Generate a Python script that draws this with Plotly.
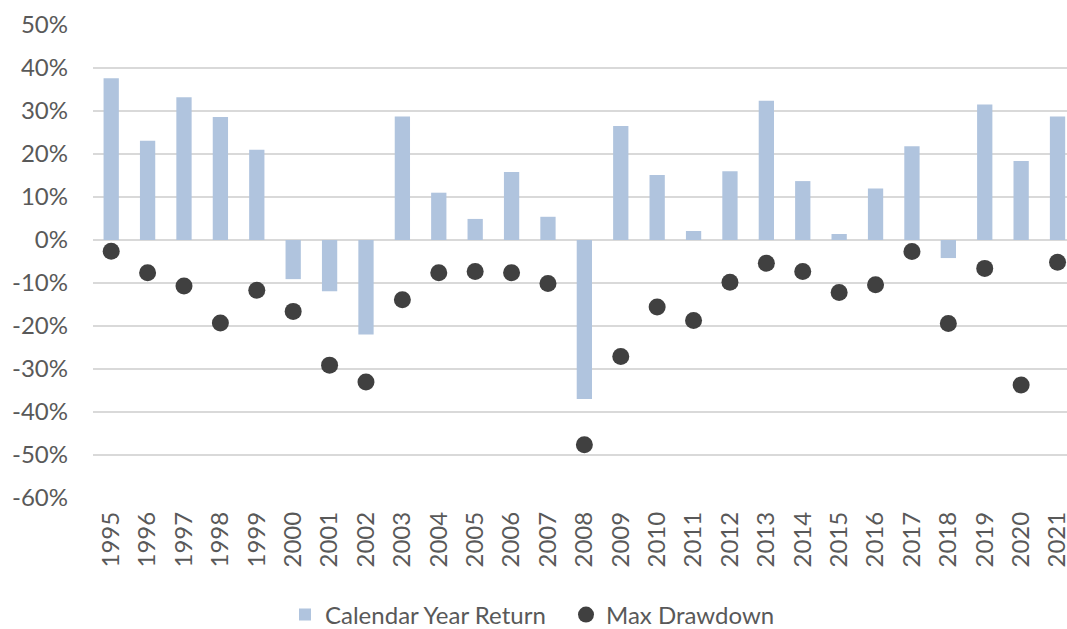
import plotly.graph_objects as go

years = [str(y) for y in range(1995, 2022)]
calendar_return = [37.6, 23.1, 33.2, 28.6, 21.0, -9.1, -11.9, -22.0, 28.7, 11.0,
                   4.9, 15.8, 5.4, -37.0, 26.5, 15.1, 2.1, 16.0, 32.4, 13.7,
                   1.4, 12.0, 21.8, -4.2, 31.5, 18.4, 28.7]
max_drawdown = [-2.6, -7.6, -10.7, -19.3, -11.7, -16.6, -29.1, -33.0, -13.9, -7.6,
                -7.3, -7.6, -10.1, -47.6, -27.1, -15.6, -18.7, -9.8, -5.4, -7.3,
                -12.2, -10.4, -2.7, -19.4, -6.6, -33.7, -5.2]
y_ticks = list(range(-60, 51, 10))
y_tick_text = [f"{v}%" for v in y_ticks]

font_family = "Lato, Carlito, 'Open Sans', sans-serif"
text_color = "#595959"

W, H = 1067, 629

fig = go.Figure()
fig.add_trace(go.Bar(
    x=years, y=calendar_return, name="Calendar Year Return",
    marker=dict(color="#B0C4DE", line=dict(width=0)), width=0.42,
))
fig.add_trace(go.Scatter(
    x=years, y=max_drawdown, name="Max Drawdown", mode="markers",
    marker=dict(color="#404040", size=17, line=dict(width=0)),
))

fig.update_layout(
    width=W, height=H,
    margin=dict(l=93, r=0, t=25, b=131, autoexpand=False),
    plot_bgcolor="white", paper_bgcolor="white",
    font=dict(family=font_family, size=24, color=text_color),
    showlegend=True,
    legend=dict(orientation="h", xref="container", yref="container",
                x=285 / W, xanchor="left", y=(H - 615) / H, yanchor="middle",
                font=dict(size=24, color=text_color), itemwidth=30,
                entrywidth=236, entrywidthmode="pixels",
                tracegroupgap=0),
    bargap=0.5,
)
fig.update_xaxes(
    type="category", range=[-0.5, 26.26], tickangle=-90,
    showgrid=False, showline=False, zeroline=False, ticks="",
    ticklabelstandoff=8, automargin=False,
    tickfont=dict(size=24, color=text_color),
)
fig.update_yaxes(
    range=[-60, 50], tickvals=y_ticks, ticktext=y_tick_text,
    showgrid=True, gridcolor="#D9D9D9", gridwidth=1.5,
    zeroline=False, showline=False, ticks="",
    ticklabelstandoff=24, automargin=False,
    tickfont=dict(size=24, color=text_color),
)

fig.write_html(
    "out.html",
    config={"displayModeBar": False},
    post_script="document.body.style.margin='0';document.body.style.overflow='hidden';",
)
